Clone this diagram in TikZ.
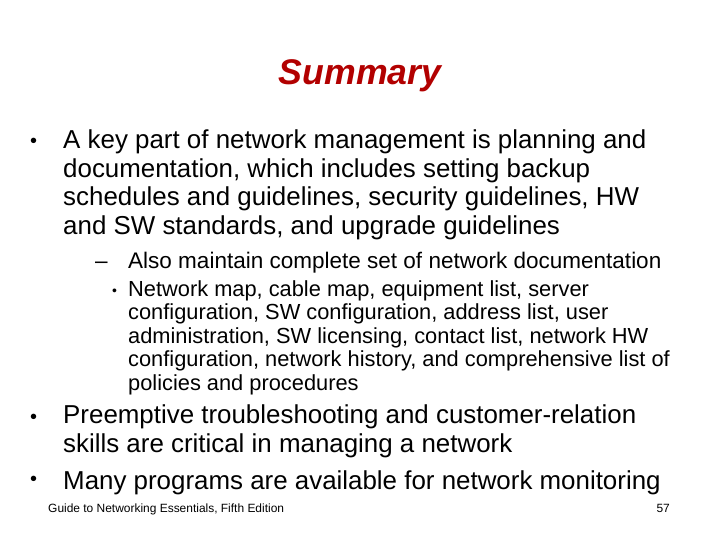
\documentclass[tikz,border=0pt]{standalone}
\usepackage{fontspec}
\setmainfont{Liberation Sans}
\definecolor{titlered}{RGB}{178,0,0}
\begin{document}
\begin{tikzpicture}[x=1bp, y=-1bp,
    lvlone/.style = {anchor=base west, inner sep=0pt, font=\fontsize{26}{28.5}\selectfont, align=left},
    lvltwo/.style = {anchor=base west, inner sep=0pt, font=\fontsize{22.6}{24}\selectfont, align=left},
    lvlthree/.style = {anchor=base west, inner sep=0pt, font=\fontsize{21.9}{23.7}\selectfont, align=left},
    foot/.style = {anchor=base, inner sep=0pt, font=\fontsize{12}{14}\selectfont}]
    \useasboundingbox (0,0) rectangle (720,540);
    \node[inner sep=0pt, font=\fontsize{35.8}{40}\bfseries\itshape\selectfont, text=titlered] (title) at (360,76) {Summary};

    % first bullet
    \node[lvlone, font=\fontsize{20}{20}\selectfont] (b1mark) at (30,148) {•};
    \node[lvlone, anchor=north west] (b1) at (63,130) {A key part of network management is planning and\\documentation, which includes setting backup\\schedules and guidelines, security guidelines, HW\\and SW standards, and upgrade guidelines};
    \node[lvltwo] (b2mark) at (95,269) {–};
    \node[lvltwo] (b2) at (128,269) {Also maintain complete set of network documentation};
    \node[lvlthree, font=\fontsize{14}{14}\selectfont] (b3mark) at (112,295) {•};
    \node[lvlthree, anchor=north west] (b3) at (128,280) {Network map, cable map, equipment list, server\\configuration, SW configuration, address list, user\\administration, SW licensing, contact list, network HW\\configuration, network history, and comprehensive list of\\policies and procedures};

    % remaining bullets
    \node[lvlone, font=\fontsize{20}{20}\selectfont] (c1mark) at (30,423) {•};
    \node[lvlone, anchor=north west] (c1) at (63,405) {Preemptive troubleshooting and customer-relation\\skills are critical in managing a network};
    \node[lvlone, font=\fontsize{20}{20}\selectfont] (d1mark) at (30,485) {•};
    \node[lvlone] (d1) at (63,489) {Many programs are available for network monitoring};

    \node[foot, anchor=base west] (source) at (48,512) {Guide to Networking Essentials, Fifth Edition};
    \node[foot, anchor=base east] (page) at (670,512) {57};
\end{tikzpicture}
\end{document}
